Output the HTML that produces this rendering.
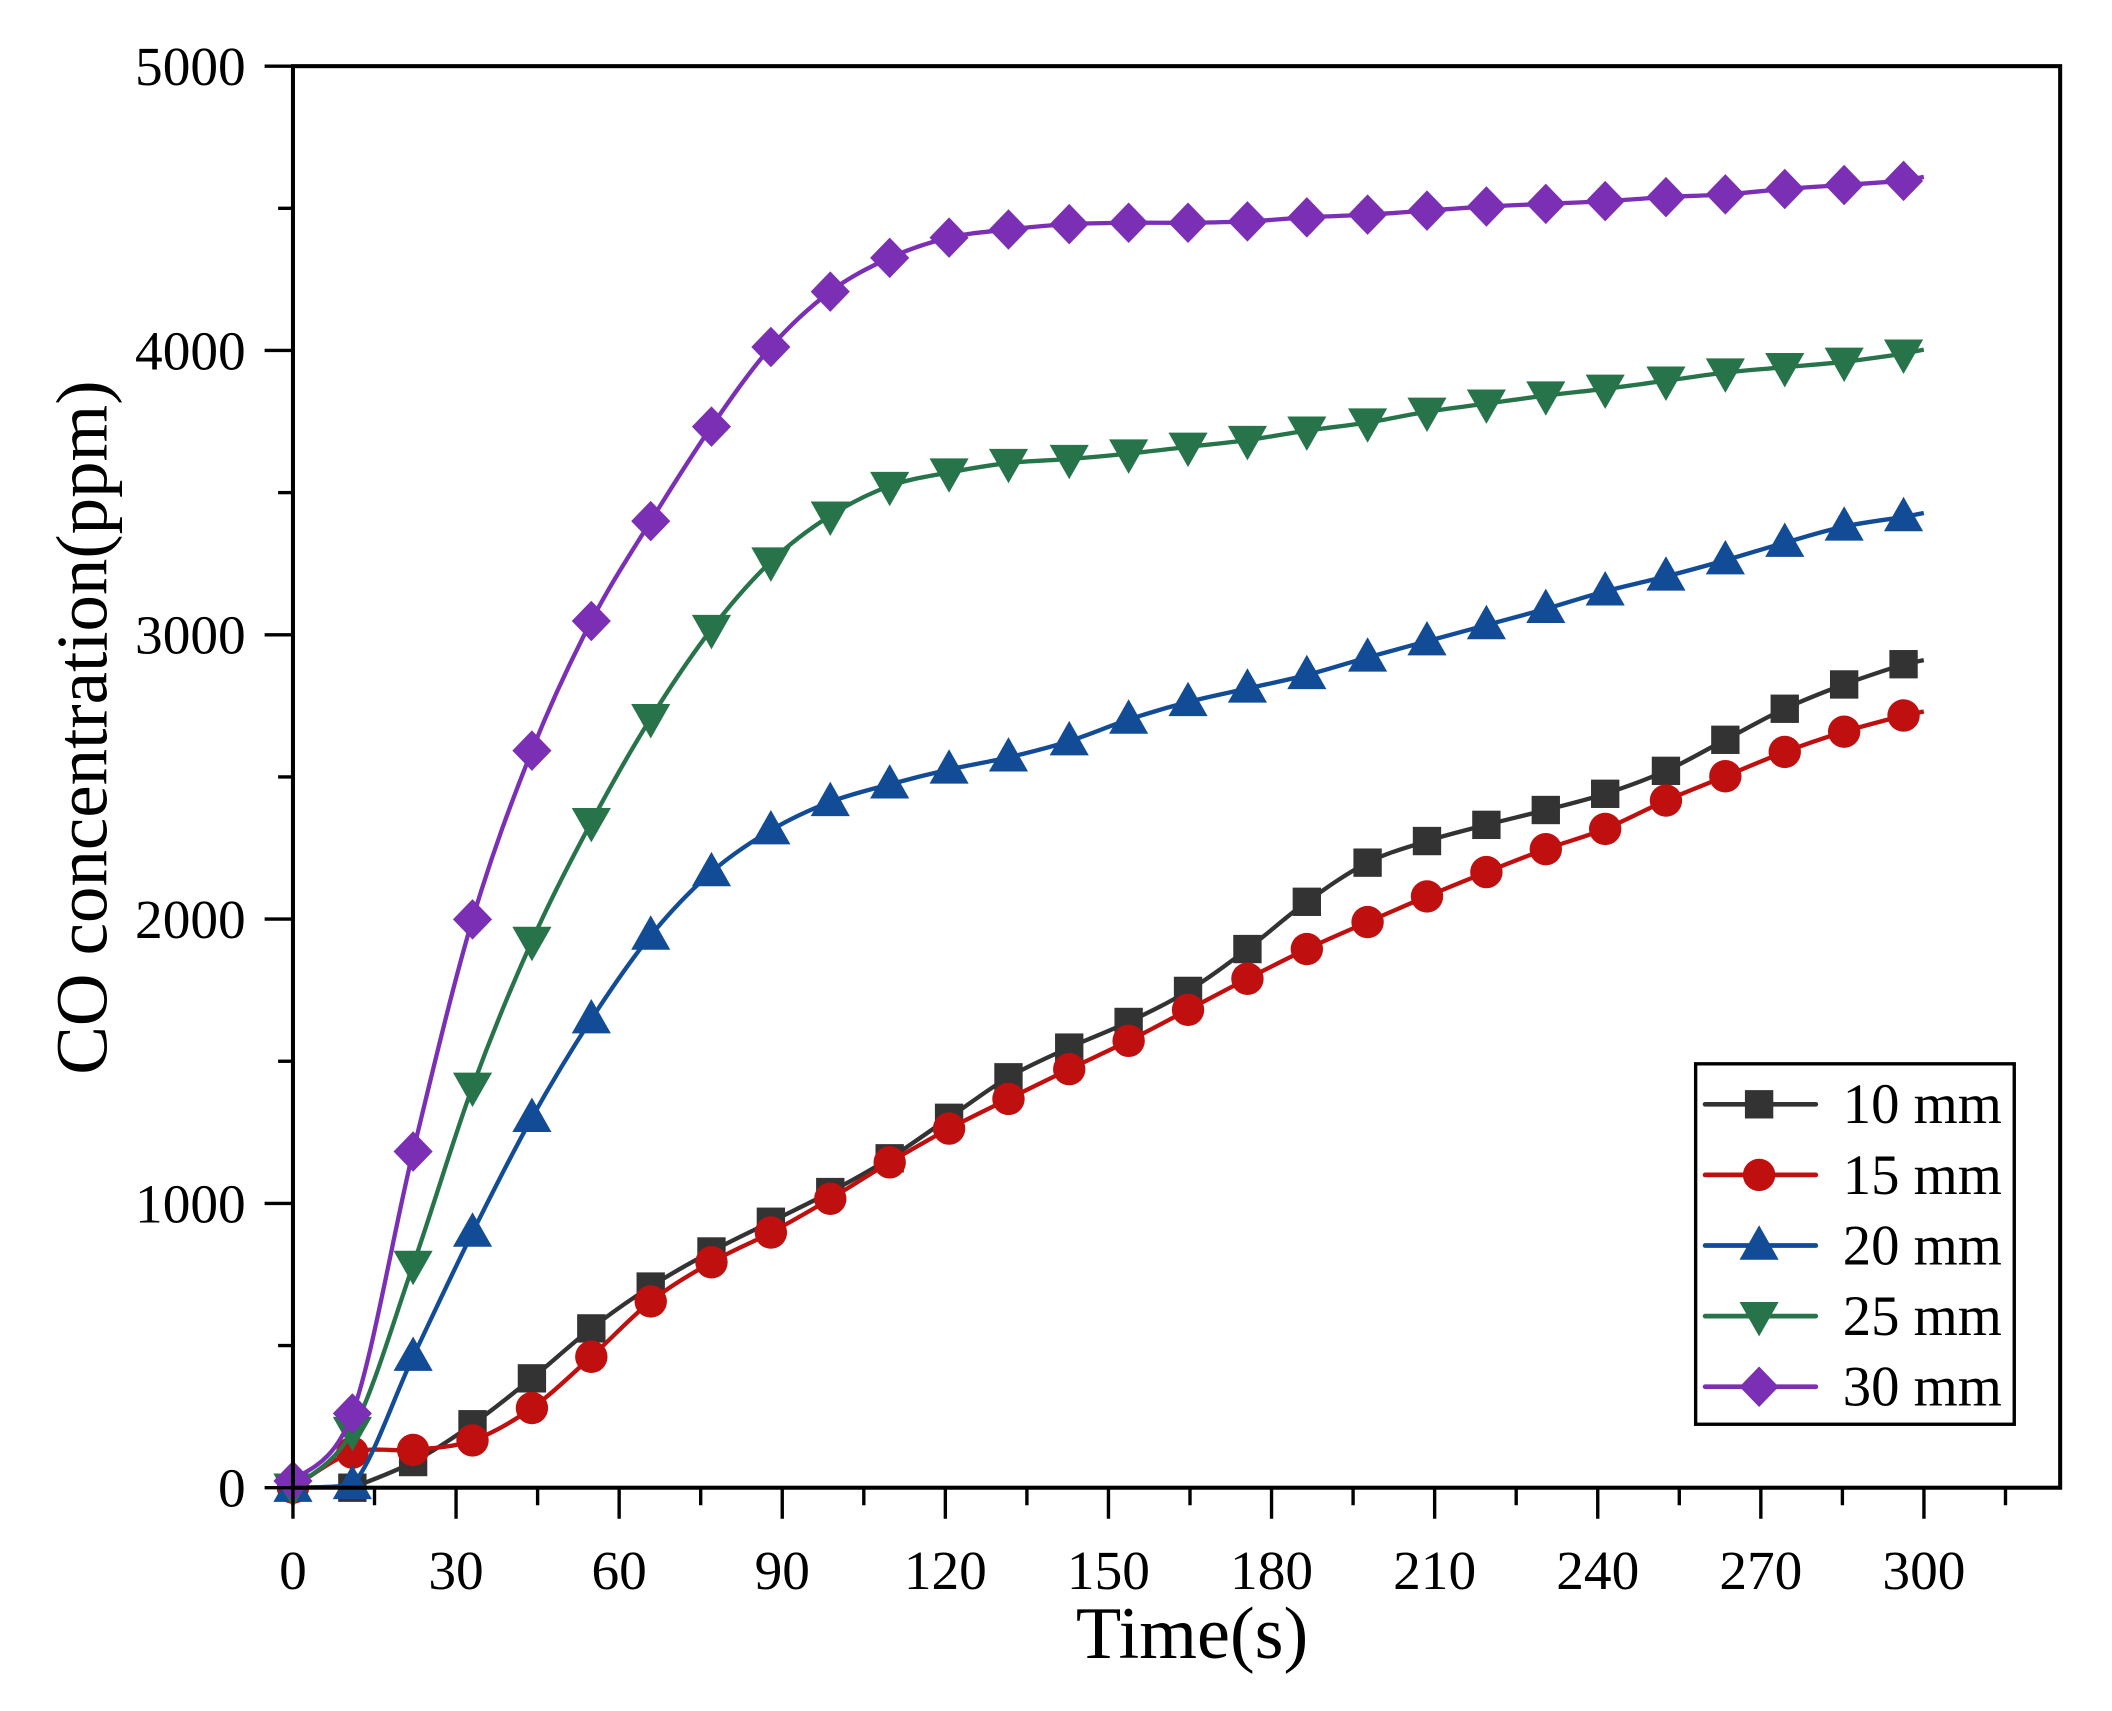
<!DOCTYPE html>
<html><head><meta charset="utf-8"><style>
html,body{margin:0;padding:0;background:#fff;}
svg{display:block;}
text{font-family:"Liberation Serif",serif;fill:#000;}
</style></head><body>
<svg id="s" width="2112" height="1711" viewBox="0 0 1564.4 1267.4" preserveAspectRatio="none" xmlns="http://www.w3.org/2000/svg">
<rect x="0" y="0" width="1564.4" height="1267.4" fill="#fff"/>
<g id="series"></g>
<rect x="217" y="49" width="1309" height="1053" fill="none" stroke="#000" stroke-width="3"/>
<g id="ticks" stroke="#000" stroke-width="2.5"></g>
<g id="labels" font-size="41"></g>
<text x="883" y="1228" font-size="55" text-anchor="middle">Time(s)</text>
<text transform="translate(79,539) rotate(-90)" font-size="54" text-anchor="middle">CO concentration(ppm)</text>
<rect x="1256" y="788" width="236" height="267" fill="#fff" stroke="#000" stroke-width="2.5"/>
<g id="legend"></g>
</svg>
<script>
const NS="http://www.w3.org/2000/svg";
function el(p,t,a,txt){const e=document.createElementNS(NS,t);for(const k in a)e.setAttribute(k,a[k]);if(txt!==undefined)e.textContent=txt;p.appendChild(e);return e;}
const ticks=document.getElementById('ticks'),labels=document.getElementById('labels');
for(let t=0;t<=315;t+=15){const x=217+t*4.027;const major=t%30===0;
 el(ticks,'line',{x1:x,y1:1102,x2:x,y2:major?1125:1115});
 if(major&&t<=300)el(labels,'text',{x:x,y:1177,'text-anchor':'middle'},String(t));}
for(let v=0;v<=5000;v+=500){const y=1102-v*0.2106;const major=v%1000===0;
 el(ticks,'line',{x1:217,y1:y,x2:major?196:206,y2:y});
 if(major)el(labels,'text',{x:182,y:y+14,'text-anchor':'end'},String(v));}
const xs=[217,261,306,350,394,438,482,527,571,615,659,703,747,792,836,880,924,968,1013,1057,1101,1145,1189,1234,1278,1322,1366,1410];
const S=[
 {c:'#333333',m:'sq',lab:'10 mm',x0:1,y:[1102,1102,1083,1055,1021,984,953,927,905,883,858,828,798,776,757,734,703,668,639,623,611,600,588,571,548,525,507,492]},
 {c:'#c00f0f',m:'ci',lab:'15 mm',x0:0,y:[1102,1076,1074,1067,1043,1005,964,935,913,888,861,836,814,792,771,748,725,703,683,664,646,629,614,593,575,557,542,530]},
 {c:'#124c96',m:'tu',lab:'20 mm',x0:0,y:[1102,1100,1005,913,828,755,693,646,615,594,581,570,561,549,533,520,510,500,487,475,463,451,438,427,415,402,390,383]},
 {c:'#27744a',m:'td',lab:'25 mm',x0:0,y:[1102,1060,937,805,697,609,532,466,416,382,360,350,343,340,336,331,326,319,313,305,299,293,288,282,276,272,268,262]},
 {c:'#7b2fb5',m:'di',lab:'30 mm',x0:0,y:[1097,1047,853,681,556,460,386,316,257,216,191,176,170,166,165,165,164,161,159,156,153,151,149,146,144,140,137,134]}
];
function marker(g,m,x,y,c){
 if(m==='sq')el(g,'rect',{x:x-10.5,y:y-10.5,width:21,height:21,fill:c});
 else if(m==='ci')el(g,'circle',{cx:x,cy:y,r:12,fill:c});
 else if(m==='tu')el(g,'polygon',{points:`${x},${y-15} ${x+14.5},${y+10.5} ${x-14.5},${y+10.5}`,fill:c});
 else if(m==='td')el(g,'polygon',{points:`${x},${y+15} ${x+14.5},${y-10.5} ${x-14.5},${y-10.5}`,fill:c});
 else el(g,'polygon',{points:`${x},${y-15} ${x+14.5},${y} ${x},${y+15} ${x-14.5},${y}`,fill:c});
}
const sg=document.getElementById('series');
S.forEach(s=>{
 const P=xs.map((x,i)=>[x,s.y[i]]).slice(s.x0);
 let d=`M${P[0][0]},${P[0][1]}`;
 for(let i=0;i<P.length-1;i++){const p0=P[Math.max(0,i-1)],p1=P[i],p2=P[i+1],p3=P[Math.min(P.length-1,i+2)];
  const c1=[p1[0]+(p2[0]-p0[0])/6,Math.min(1102,p1[1]+(p2[1]-p0[1])/6)],c2=[p2[0]-(p3[0]-p1[0])/6,Math.min(1102,p2[1]-(p3[1]-p1[1])/6)];
  d+=` C${c1[0]},${c1[1]} ${c2[0]},${c2[1]} ${p2[0]},${p2[1]}`;}
 d+=` L1425,${P[P.length-1][1]-3}`;
 el(sg,'path',{d:d,fill:'none',stroke:s.c,'stroke-width':3.2});
 P.forEach(p=>marker(sg,s.m,p[0],p[1],s.c));
});
const lg=document.getElementById('legend');
S.forEach((s,i)=>{const y=818+i*52.3;
 el(lg,'line',{x1:1263,y1:y,x2:1345,y2:y,stroke:s.c,'stroke-width':3.5,'stroke-linecap':'round'});
 marker(lg,s.m,1303,y,s.c);
 el(lg,'text',{x:1365,y:y+14,'font-size':42},s.lab);
});
</script>
</body></html>
